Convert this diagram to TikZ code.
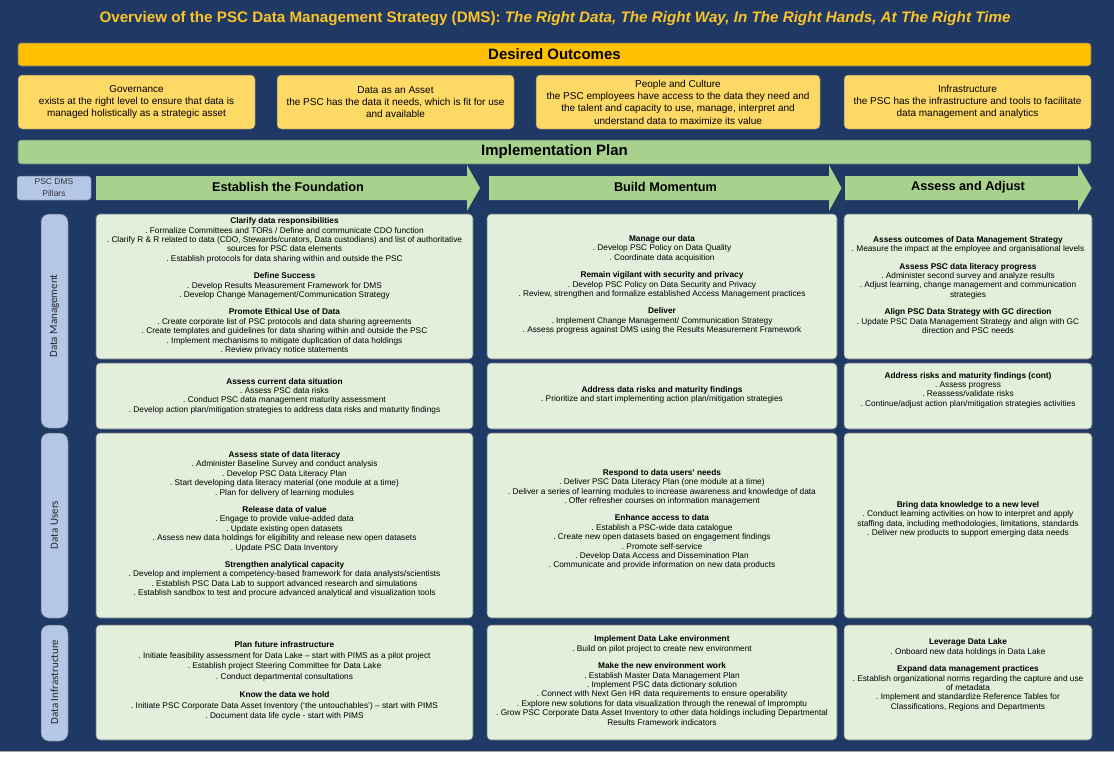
\documentclass[tikz,border=0pt]{standalone}
\usepackage{fontspec}
\setmainfont{Liberation Sans}
\newfontfamily\lblfont{Carlito}
\definecolor{navy}{RGB}{31,56,100}
\definecolor{gold}{RGB}{255,192,0}
\definecolor{titlegold}{RGB}{250,196,40}
\definecolor{lightyellow}{RGB}{255,217,102}
\definecolor{lightgreen}{RGB}{169,209,142}
\definecolor{cellgreen}{RGB}{226,239,218}
\definecolor{lightblue}{RGB}{180,199,231}
\definecolor{edgegray}{RGB}{105,115,125}
\newcommand\pb{.\ }
\newcommand\hd[1]{\textbf{#1}}
\newcommand\boxat[6]{\node[#2, minimum width={#5-#3}, minimum height={#6-#4}] (#1) at ({(#3+#5)/2},{(#4+#6)/2}) {};}
\begin{document}
\begin{tikzpicture}[x=1pt,y=-1pt,
  every node/.style={inner sep=0pt, outer sep=0pt},
  barbox/.style={draw=edgegray, line width=0.6pt, rounded corners=3pt},
  goldbar/.style={barbox, fill=gold},
  outbox/.style={draw=edgegray, line width=0.5pt, rounded corners=4pt, fill=lightyellow},
  greenbar/.style={barbox, fill=lightgreen},
  bluebox/.style={draw=edgegray, line width=0.5pt, rounded corners=3pt, fill=lightblue},
  lblbox/.style={draw=edgegray, line width=0.5pt, rounded corners=8pt, fill=lightblue},
  cellbox/.style={draw=edgegray, line width=0.6pt, rounded corners=4pt, fill=cellgreen},
  arrowshape/.style={fill=lightgreen},
  titletext/.style={font=\fontsize{15.2}{17}\selectfont\bfseries, text=titlegold},
  bartext/.style={font=\fontsize{15}{17}\selectfont\bfseries, text=black},
  outtext/.style={font=\fontsize{10}{12.3}\selectfont, align=center, text=black},
  arrtext/.style={font=\fontsize{12.7}{14}\selectfont\bfseries, text=black},
  pillartext/.style={font=\fontsize{8.5}{12}\selectfont, align=center, text=black!80},
  lbltext/.style={font=\lblfont\fontsize{11}{13}\selectfont, text=black!85, rotate=90},
  celltext/.style={font=\fontsize{8.3}{9.4}\selectfont, align=center, text=black},
]
\useasboundingbox (0,0) rectangle (1114,758);
\fill[navy] (0,0) rectangle (1114,751);
\fill[white] (0,751) rectangle (1114,758);
\draw[gray!70, line width=0.8pt] (0,751.5) -- (1114,751.5);

% title
\node[titletext] (title) at (555,19) {Overview of the PSC Data Management Strategy (DMS): \textit{The Right Data, The Right Way, In The Right Hands, At The Right Time}};

% desired outcomes
\boxat{desired}{goldbar}{18}{43}{1091}{66}
\node[bartext] (desiredtxt) at (desired) {Desired Outcomes};

\boxat{o1}{outbox}{18}{75}{255}{129}
\boxat{o2}{outbox}{277}{75}{514}{129}
\boxat{o3}{outbox}{536}{75}{820}{129}
\boxat{o4}{outbox}{844}{75}{1091}{129}
\node[outtext] (o1t) at (o1) {Governance\\exists at the right level to ensure that data is\\managed holistically as a strategic asset};
\node[outtext] (o2t) at (o2) {Data as an Asset\\the PSC has the data it needs, which is fit for use\\and available};
\node[outtext] (o3t) at (o3) {People and Culture\\the PSC employees have access to the data they need and\\the talent and capacity to use, manage, interpret and\\understand data to maximize its value};
\node[outtext] (o4t) at (o4) {Infrastructure\\the PSC has the infrastructure and tools to facilitate\\data management and analytics};

% implementation plan
\boxat{impl}{greenbar}{18}{140}{1091}{164}
\node[bartext] (impltxt) at (impl) {Implementation Plan};

% pillars
\boxat{pillars}{bluebox}{17}{176}{91}{200}
\node[pillartext] (pillarstxt) at (pillars) {PSC DMS\\Pillars};

% phase arrows
\fill[arrowshape] (96,176) -- (467,176) -- (467,165) -- (480,188) -- (467,211) -- (467,200) -- (96,200) -- cycle;
\fill[arrowshape] (489,176) -- (829,176) -- (829,165) -- (841.5,188) -- (829,211) -- (829,200) -- (489,200) -- cycle;
\fill[arrowshape] (845,176) -- (1078,176) -- (1078,165) -- (1091.5,188) -- (1078,211) -- (1078,200) -- (845,200) -- cycle;
\node[arrtext] (ph1) at (288,187) {Establish the Foundation};
\node[arrtext] (ph2) at (665.5,187) {Build Momentum};
\node[arrtext] (ph3) at (968,187) {Assess and Adjust};

% row labels
\boxat{ldm}{lblbox}{41}{214}{68}{428}
\boxat{ldu}{lblbox}{41}{433}{68}{618}
\boxat{ldi}{lblbox}{41}{625}{68}{741}
\node[lbltext] (ldmt) at (54.5,316) {Data Management};
\node[lbltext] (ldut) at (54.5,525) {Data Users};
\node[lbltext] (ldit) at (54.5,682) {Data Infrastructure};

% cells
\boxat{c11}{cellbox}{96}{214}{473}{359}
\boxat{c12}{cellbox}{96}{363}{473}{429}
\boxat{c13}{cellbox}{96}{433}{473}{618}
\boxat{c14}{cellbox}{96}{625}{473}{740}
\boxat{c21}{cellbox}{487}{214}{837}{359}
\boxat{c22}{cellbox}{487}{363}{837}{429}
\boxat{c23}{cellbox}{487}{433}{837}{618}
\boxat{c24}{cellbox}{487}{625}{837}{740}
\boxat{c31}{cellbox}{844}{214}{1092}{359}
\boxat{c32}{cellbox}{844}{363}{1092}{429}
\boxat{c33}{cellbox}{844}{433}{1092}{618}
\boxat{c34}{cellbox}{844}{625}{1092}{740}

\node[celltext] (t11) at (284.5,286) {\hd{Clarify data responsibilities}\\
\pb Formalize Committees and TORs / Define and communicate CDO function\\
\pb Clarify R \& R related to data (CDO, Stewards/curators, Data custodians) and list of authoritative\\
sources for PSC data elements\\
\pb Establish protocols for data sharing within and outside the PSC\\[8pt]
\hd{Define Success}\\
\pb Develop Results Measurement Framework for DMS\\
\pb Develop Change Management/Communication Strategy\\[8pt]
\hd{Promote Ethical Use of Data}\\
\pb Create corporate list of PSC protocols and data sharing agreements\\
\pb Create templates and guidelines for data sharing within and outside the PSC\\
\pb Implement mechanisms to mitigate duplication of data holdings\\
\pb Review privacy notice statements};

\node[celltext] (t12) at (284.5,396) {\hd{Assess current data situation}\\
\pb Assess PSC data risks\\
\pb Conduct PSC data management maturity assessment\\
\pb Develop action plan/mitigation strategies to address data risks and maturity findings};

\node[celltext] (t13) at (284.5,524.5) {\hd{Assess state of data literacy}\\
\pb Administer Baseline Survey and conduct analysis\\
\pb Develop PSC Data Literacy Plan\\
\pb Start developing data literacy material (one module at a time)\\
\pb Plan for delivery of learning modules\\[8pt]
\hd{Release data of value}\\
\pb Engage to provide value-added data\\
\pb Update existing open datasets\\
\pb Assess new data holdings for eligibility and release new open datasets\\
\pb Update PSC Data Inventory\\[8pt]
\hd{Strengthen analytical capacity}\\
\pb Develop and implement a competency-based framework for data analysts/scientists\\
\pb Establish PSC Data Lab to support advanced research and simulations\\
\pb Establish sandbox to test and procure advanced analytical and visualization tools};

\node[celltext, font=\fontsize{8.3}{10.5}\selectfont] (t14) at (284.5,681) {\hd{Plan future infrastructure}\\
\pb Initiate feasibility assessment for Data Lake – start with PIMS as a pilot project\\
\pb Establish project Steering Committee for Data Lake\\
\pb Conduct departmental consultations\\[8pt]
\hd{Know the data we hold}\\
\pb Initiate PSC Corporate Data Asset Inventory (‘the untouchables’) – start with PIMS\\
\pb Document data life cycle - start with PIMS};

\node[celltext] (t21) at (662,285) {\hd{Manage our data}\\
\pb Develop PSC Policy on Data Quality\\
\pb Coordinate data acquisition\\[8pt]
\hd{Remain vigilant with security and privacy}\\
\pb Develop PSC Policy on Data Security and Privacy\\
\pb Review, strengthen and formalize established Access Management practices\\[8pt]
\hd{Deliver}\\
\pb Implement Change Management/ Communication Strategy\\
\pb Assess progress against DMS using the Results Measurement Framework};

\node[celltext] (t22) at (662,395) {\hd{Address data risks and maturity findings}\\
\pb Prioritize and start implementing action plan/mitigation strategies};

\node[celltext] (t23) at (662,519.5) {\hd{Respond to data users’ needs}\\
\pb Deliver PSC Data Literacy Plan (one module at a time)\\
\pb Deliver a series of learning modules to increase awareness and knowledge of data\\
\pb Offer refresher courses on information management\\[8pt]
\hd{Enhance access to data}\\
\pb Establish a PSC-wide data catalogue\\
\pb Create new open datasets based on engagement findings\\
\pb Promote self-service\\
\pb Develop Data Access and Dissemination Plan\\
\pb Communicate and provide information on new data products};

\node[celltext] (t24) at (662,680.5) {\hd{Implement Data Lake environment}\\
\pb Build on pilot project to create new environment\\[8pt]
\hd{Make the new environment work}\\
\pb Establish Master Data Management Plan\\
\pb Implement PSC data dictionary solution\\
\pb Connect with Next Gen HR data requirements to ensure operability\\
\pb Explore new solutions for data visualization through the renewal of Impromptu\\
\pb Grow PSC Corporate Data Asset Inventory to other data holdings including Departmental\\
Results Framework indicators};

\node[celltext] (t31) at (968,285) {\hd{Assess outcomes of Data Management Strategy}\\
\pb Measure the impact at the employee and organisational levels\\[8pt]
\hd{Assess PSC data literacy progress}\\
\pb Administer second survey and analyze results\\
\pb Adjust learning, change management and communication\\
strategies\\[8pt]
\hd{Align PSC Data Strategy with GC direction}\\
\pb Update PSC Data Management Strategy and align with GC\\
direction and PSC needs};

\node[celltext] (t32) at (968,390) {\hd{Address risks and maturity findings (cont)}\\
\pb Assess progress\\
\pb Reassess/validate risks\\
\pb Continue/adjust action plan/mitigation strategies activities};

\node[celltext] (t33) at (968,519.5) {\hd{Bring data knowledge to a new level}\\
\pb Conduct learning activities on how to interpret and apply\\
staffing data, including methodologies, limitations, standards\\
\pb Deliver new products to support emerging data needs};

\node[celltext] (t34) at (968,675) {\hd{Leverage Data Lake}\\
\pb Onboard new data holdings in Data Lake\\[8pt]
\hd{Expand data management practices}\\
\pb Establish organizational norms regarding the capture and use\\
of metadata\\
\pb Implement and standardize Reference Tables for\\
Classifications, Regions and Departments};
\end{tikzpicture}
\end{document}
